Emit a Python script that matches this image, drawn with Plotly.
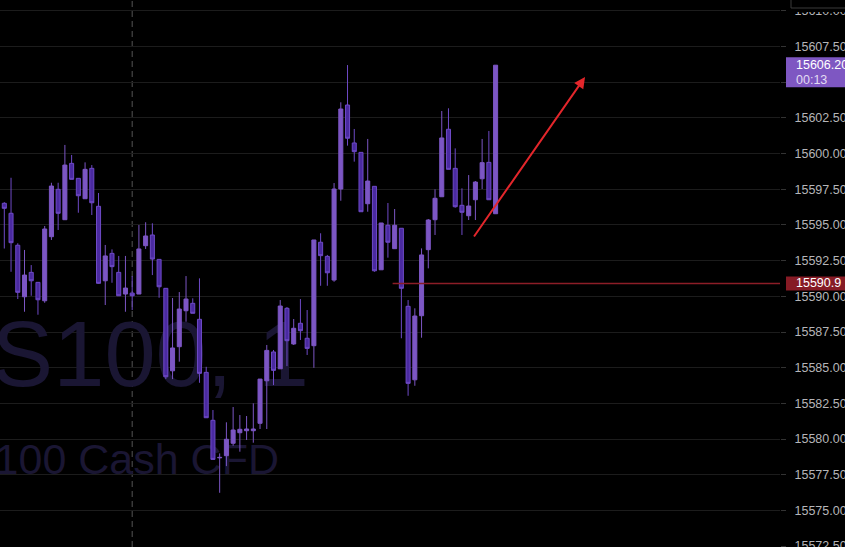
import plotly.graph_objects as go

# ---- data (1-minute bars) ----
bar_index = list(range(74))
opens = [15596.52, 15595.82, 15593.58, 15589.97, 15591.68, 15590.98, 15589.69, 15594.18, 15597.50, 15595.37,
         15599.32, 15598.27, 15596.84, 15598.97, 15596.31, 15591.09, 15593.01, 15591.68, 15590.16, 15590.23,
         15590.16, 15593.55, 15594.30, 15592.59, 15590.56, 15584.78, 15586.47, 15588.99, 15589.51, 15588.39,
         15584.67, 15581.31, 15578.68, 15578.83, 15579.70, 15580.44, 15580.58, 15580.58, 15581.10, 15584.08,
         15586.10, 15584.92, 15589.16, 15586.66, 15588.11, 15587.06, 15586.54, 15593.79, 15592.80, 15591.14,
         15597.52, 15603.41, 15600.75, 15600.09, 15596.49, 15597.71, 15591.86, 15594.98, 15593.34, 15594.77,
         15589.30, 15584.15, 15588.64, 15593.27, 15595.37, 15596.98, 15601.71, 15598.97, 15596.38, 15595.65,
         15596.77, 15598.24, 15599.39, 15595.79]
highs = [15596.60, 15598.31, 15593.72, 15593.25, 15592.19, 15591.00, 15594.93, 15597.96, 15597.96, 15600.61,
         15599.91, 15598.27, 15599.39, 15599.20, 15597.24, 15593.60, 15593.29, 15592.83, 15592.83, 15591.42,
         15595.00, 15595.19, 15595.12, 15592.59, 15590.56, 15589.88, 15590.30, 15591.42, 15589.86, 15591.26,
         15585.06, 15582.03, 15578.99, 15581.17, 15582.24, 15581.68, 15581.61, 15582.50, 15584.20, 15586.59,
         15586.24, 15589.74, 15589.25, 15588.41, 15589.81, 15589.04, 15593.95, 15594.42, 15592.90, 15597.94,
         15603.60, 15606.21, 15601.73, 15600.09, 15601.03, 15597.71, 15595.14, 15596.54, 15596.12, 15594.77,
         15589.74, 15589.16, 15593.36, 15595.42, 15597.50, 15602.99, 15603.18, 15600.37, 15597.57, 15598.50,
         15598.08, 15601.03, 15601.59, 15606.20]
lows = [15593.35, 15591.72, 15589.81, 15588.92, 15590.04, 15588.71, 15589.55, 15593.95, 15594.65, 15595.37,
        15598.20, 15595.86, 15596.84, 15595.70, 15590.88, 15589.39, 15590.95, 15590.04, 15588.92, 15589.04,
        15590.16, 15593.32, 15591.49, 15589.90, 15584.20, 15584.20, 15585.42, 15588.22, 15588.81, 15583.94,
        15581.49, 15578.57, 15576.23, 15578.10, 15579.53, 15579.11, 15579.93, 15579.74, 15580.70, 15580.70,
        15583.78, 15584.92, 15585.11, 15586.59, 15586.94, 15585.89, 15584.99, 15590.74, 15590.74, 15591.02,
        15596.70, 15600.56, 15599.44, 15595.93, 15595.93, 15591.72, 15591.86, 15592.71, 15593.34, 15587.06,
        15583.03, 15583.73, 15587.10, 15591.96, 15594.30, 15596.98, 15598.90, 15596.21, 15594.30, 15595.35,
        15595.35, 15597.52, 15596.77, 15595.79]
closes = [15596.17, 15593.76, 15590.28, 15591.49, 15591.09, 15589.76, 15594.72, 15597.73, 15595.82, 15599.20,
          15598.20, 15597.05, 15598.90, 15596.56, 15590.91, 15592.83, 15592.08, 15590.04, 15590.58, 15590.04,
          15593.32, 15594.23, 15592.61, 15590.67, 15584.36, 15586.38, 15589.11, 15589.81, 15588.81, 15584.60,
          15581.49, 15578.57, 15578.71, 15579.98, 15580.63, 15580.68, 15580.70, 15580.70, 15584.20, 15586.21,
          15584.81, 15589.32, 15586.89, 15587.76, 15587.59, 15586.35, 15593.95, 15592.85, 15591.65, 15597.52,
          15603.13, 15601.08, 15600.14, 15595.93, 15598.08, 15591.79, 15595.14, 15593.79, 15594.98, 15590.56,
          15583.90, 15588.62, 15592.90, 15595.35, 15596.87, 15601.10, 15598.90, 15596.28, 15595.89, 15596.33,
          15598.01, 15599.37, 15596.77, 15606.20]

price_range = [15572.43, 15610.77]
bar_range = [-0.64, 115.26]
tick_step = 2.5

session_break_bar = 19
ray_start_bar = 57.7
ray_price = 15590.9
last_price = closes[-1]
countdown = "00:13"
arrow_tail = (69.64, 15594.09)
arrow_head = (86.29, 15605.37)
watermark_symbol = "US100, 1"
watermark_desc = "US 100 Cash CFD"

# ---- styles ----
UP = "#7c56c4"
DOWN_FILL = "#4a2aa0"
DOWN_LINE = "#6e4ac6"
GRID = "#1c1c1c"
BG = "#000000"
WM = "#1a1633"
TICKFONT = dict(family="Liberation Sans, Arial, sans-serif", size=12.5, color="#b5b5b8")
PLOT_W = 780.0

fig = go.Figure()

# watermark on the base (hidden) axes, so candles draw above it
fig.add_trace(go.Scatter(
    x=[309 / PLOT_W, 279 / PLOT_W], y=[1 - 363 / 547, 1 - 463 / 547],
    mode="text", text=[watermark_symbol, watermark_desc],
    textposition="middle left",
    textfont=dict(family="Liberation Sans, Arial, sans-serif",
                  size=[92, 43], color=WM),
    xaxis="x", yaxis="y", hoverinfo="skip", showlegend=False))

fig.add_trace(go.Candlestick(
    x=bar_index, open=opens, high=highs, low=lows, close=closes,
    xaxis="x2", yaxis="y2",
    increasing=dict(line=dict(color=UP, width=1), fillcolor=UP),
    decreasing=dict(line=dict(color=DOWN_LINE, width=1), fillcolor=DOWN_FILL),
    whiskerwidth=0, hoverinfo="skip", showlegend=False))

shapes = [
    dict(type="line", xref="x2", yref="paper", x0=session_break_bar, x1=session_break_bar,
         y0=0, y1=1, line=dict(color="#555555", width=1, dash="6px,4px"), layer="below"),
    dict(type="line", xref="x2", yref="y2", x0=ray_start_bar, x1=bar_range[1] + 5,
         y0=ray_price, y1=ray_price, line=dict(color="#8c1d27", width=1.5)),
    dict(type="rect", xref="paper", x0=786 / PLOT_W, x1=1.1, yref="y2", ysizemode="pixel",
         yanchor=ray_price, y0=-7, y1=7, fillcolor="#861b25", line=dict(width=0), layer="above"),
    dict(type="rect", xref="paper", x0=786 / PLOT_W, x1=1.1, yref="y2", ysizemode="pixel",
         yanchor=last_price, y0=-22, y1=8, fillcolor="#7e57c2", line=dict(width=0), layer="above"),
    dict(type="rect", xref="paper", x0=786 / PLOT_W, x1=1.1, yref="paper", y0=1 - 12 / 547, y1=1.05,
         fillcolor=BG, line=dict(width=0), layer="above"),
    dict(type="rect", xref="paper", x0=791 / PLOT_W, x1=1.1, yref="paper", y0=1 - 8 / 547, y1=1.05,
         fillcolor=BG, line=dict(color="#3b3b3b", width=1), layer="above"),
]

annotations = [
    dict(xref="paper", x=794 / PLOT_W, xanchor="left", yref="y2", y=ray_price, yanchor="middle",
         text=f"{ray_price:.1f}", showarrow=False, font=dict(TICKFONT, color="#ffffff")),
    dict(xref="paper", x=794 / PLOT_W, xanchor="left", yref="y2", y=last_price, yanchor="middle",
         text=f"{last_price:.2f}", showarrow=False, font=dict(TICKFONT, color="#ffffff")),
    dict(xref="paper", x=794 / PLOT_W, xanchor="left", yref="y2", y=last_price, yanchor="middle",
         yshift=-15, text=countdown, showarrow=False, font=dict(TICKFONT, color="#e2dbf2")),
    dict(xref="x2", yref="y2", x=arrow_head[0], y=arrow_head[1],
         axref="x2", ayref="y2", ax=arrow_tail[0], ay=arrow_tail[1],
         text="", showarrow=True, arrowhead=2, arrowsize=1.1, arrowwidth=2,
         arrowcolor="#e3262b"),
]

fig.update_layout(
    width=845, height=547,
    margin=dict(l=0, r=845 - PLOT_W, t=0, b=0, autoexpand=False),
    paper_bgcolor=BG, plot_bgcolor=BG,
    showlegend=False,
    boxgap=0.4, boxgroupgap=0,
    xaxis=dict(range=[0, 1], visible=False, fixedrange=True),
    yaxis=dict(range=[0, 1], visible=False, fixedrange=True),
    xaxis2=dict(overlaying="x", range=bar_range, visible=False, showgrid=False,
                rangeslider=dict(visible=False), fixedrange=True),
    yaxis2=dict(overlaying="y", side="right", range=price_range, automargin=False,
                tickmode="linear", tick0=0, dtick=tick_step, tickformat=".2f",
                showgrid=True, gridcolor=GRID, gridwidth=1, zeroline=False, showline=False,
                ticks="outside", ticklen=5, tickcolor="#333333",
                tickfont=TICKFONT, ticklabelstandoff=6, ticklabeloverflow="allow",
                fixedrange=True),
    shapes=shapes,
    annotations=annotations,
)

fig.write_html(
    "out.html",
    config={"displayModeBar": False},
    post_script="document.body.style.margin='0px';document.body.style.overflow='hidden';"
                "document.documentElement.style.overflow='hidden';"
                "document.body.style.background='#000000';",
)
